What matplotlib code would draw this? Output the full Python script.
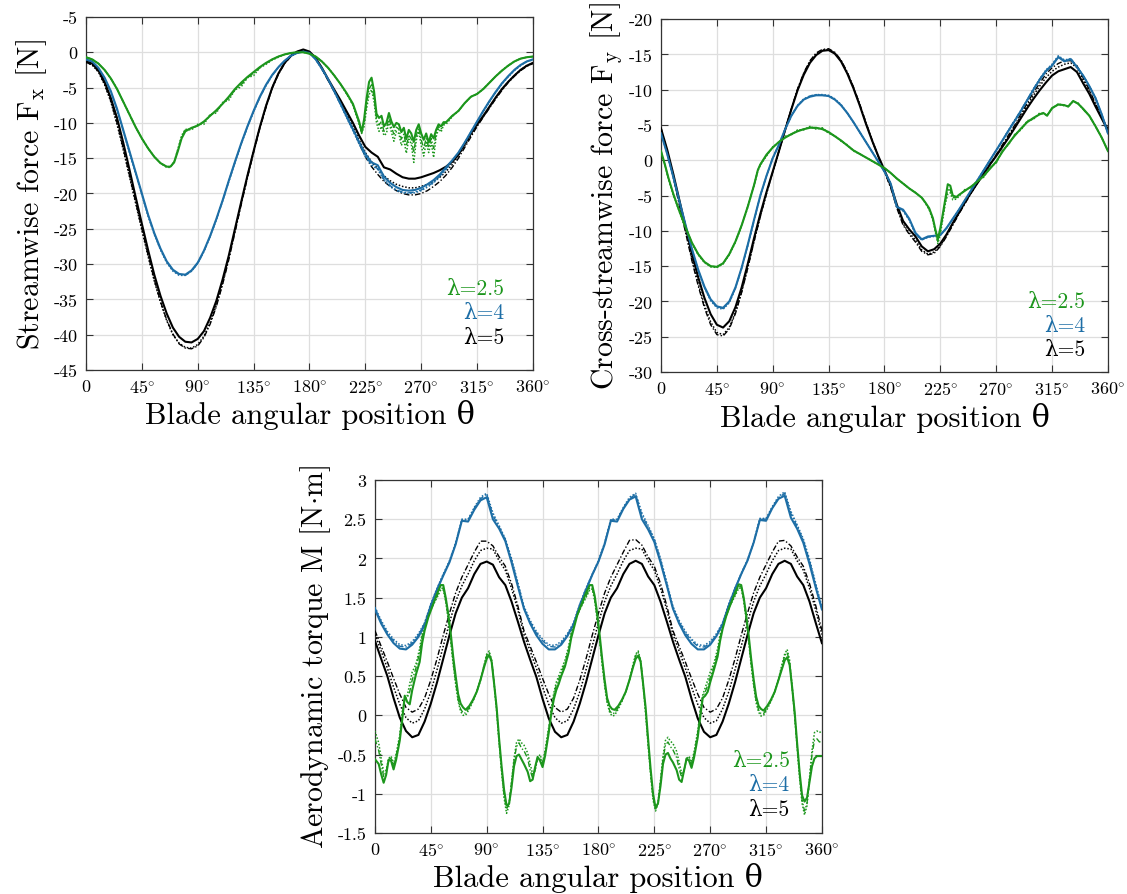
import numpy as np
import matplotlib.pyplot as plt

plt.rcParams['font.family'] = ['cmr10', 'DejaVu Serif']
plt.rcParams['mathtext.fontset'] = 'cm'
plt.rcParams['axes.formatter.use_mathtext'] = True

# ---------------- shared axis data ----------------
theta = np.arange(0, 361, 5)          # 5 deg sample grid
x_ticks = [0, 45, 90, 135, 180, 225, 270, 315, 360]
x_ticklabels = ['0'] + [r'$\mathrm{%d}^{\circ}$' % t for t in x_ticks[1:]]
lambdas = ['λ=2.5', 'λ=4', 'λ=5']

GREEN = '#1c961c'
BLUE = '#1d6ea6'
BLACK = '#000000'

# ---------------- streamwise force Fx ----------------
fx_yticks = [5, 0, -5, -10, -15, -20, -25, -30, -35, -40, -45]
fx_yticklabels = ['-5', '0', '-5', '-10', '-15', '-20', '-25', '-30', '-35', '-40', '-45']

fx_black = [-1.3, -1.6, -2.5, -4.2, -6.5, -9.3, -12.8, -16.6, -20.5, -24.3,
            -28.0, -31.5, -34.5, -37.0, -39.0, -40.3, -41.0, -41.1, -40.6, -39.5,
            -37.6, -35.2, -32.2, -28.8, -25.0, -21.2, -17.5, -14.0, -10.6, -7.6,
            -5.0, -3.0, -1.5, -0.5, 0.1, 0.4, 0.1, -0.8, -2.2, -3.8,
            -5.3, -6.8, -8.4, -10.0, -11.8, -13.4, -14.2, -14.8, -16.3, -16.6,
            -17.2, -17.7, -17.9, -17.9, -17.7, -17.4, -17.1, -16.7, -16.2, -15.5,
            -14.5, -13.0, -11.5, -10.2, -9.0, -7.7, -6.4, -5.2, -4.2, -3.3,
            -2.5, -1.9, -1.5]
fx_black_dot = [-1.4, -1.8, -2.8, -4.6, -7.0, -10.2, -13.8, -17.6, -21.4, -25.2,
                -28.9, -32.4, -35.4, -38.0, -40.0, -41.2, -41.8, -41.9, -41.4, -40.2,
                -38.3, -35.8, -32.7, -29.2, -25.3, -21.4, -17.6, -14.0, -10.6, -7.6,
                -5.0, -3.0, -1.5, -0.5, 0.1, 0.3, 0.0, -0.9, -2.3, -3.9,
                -5.5, -7.0, -8.7, -10.5, -12.4, -14.2, -15.5, -16.5, -17.5, -18.2,
                -18.7, -19.0, -19.2, -19.2, -19.0, -18.7, -18.3, -17.7, -16.9, -15.9,
                -14.6, -13.2, -11.8, -10.4, -9.1, -7.8, -6.5, -5.3, -4.2, -3.3,
                -2.5, -1.9, -1.5]
fx_black_dash = [-1.4, -1.8, -2.7, -4.5, -6.9, -10.0, -13.6, -17.4, -21.2, -25.0,
                 -28.7, -32.2, -35.3, -37.9, -39.9, -41.3, -41.9, -42.0, -41.6, -40.4,
                 -38.5, -36.0, -32.9, -29.4, -25.5, -21.6, -17.8, -14.2, -10.8, -7.8,
                 -5.1, -3.1, -1.6, -0.6, 0.0, 0.3, 0.0, -0.9, -2.3, -4.0,
                 -5.6, -7.2, -9.0, -10.9, -12.9, -14.8, -16.2, -17.3, -18.3, -19.0,
                 -19.6, -20.0, -20.2, -20.2, -20.0, -19.6, -19.0, -18.3, -17.4, -16.3,
                 -15.0, -13.5, -12.0, -10.5, -9.2, -7.9, -6.6, -5.4, -4.3, -3.4,
                 -2.6, -2.0, -1.6]
fx_blue = [-1.0, -1.3, -2.2, -3.6, -5.5, -8.0, -11.0, -14.0, -17.0, -20.0,
           -23.0, -25.6, -27.8, -29.6, -30.8, -31.4, -31.5, -30.9, -29.8, -28.1,
           -26.0, -23.6, -21.0, -18.2, -15.5, -12.9, -10.5, -8.3, -6.3, -4.6,
           -3.2, -2.1, -1.2, -0.5, -0.1, 0.1, -0.1, -1.0, -2.3, -3.8,
           -5.5, -7.3, -9.1, -10.9, -12.7, -14.4, -15.6, -16.0, -17.6, -18.5,
           -19.1, -19.5, -19.6, -19.5, -19.2, -18.7, -18.1, -17.3, -16.3, -15.3,
           -14.2, -12.8, -11.3, -9.8, -8.3, -6.9, -5.6, -4.4, -3.4, -2.5,
           -1.8, -1.3, -1.0]
fx_blue_dot = [-1.0, -1.4, -2.3, -3.7, -5.7, -8.2, -11.2, -14.2, -17.2, -20.2,
               -23.2, -25.8, -28.0, -29.8, -31.0, -31.6, -31.6, -31.0, -29.9, -28.2,
               -26.1, -23.7, -21.1, -18.3, -15.6, -13.0, -10.6, -8.4, -6.4, -4.7,
               -3.3, -2.1, -1.2, -0.5, -0.1, 0.1, -0.1, -1.0, -2.4, -3.9,
               -5.6, -7.4, -9.3, -11.1, -13.0, -14.8, -16.0, -16.6, -18.1, -19.0,
               -19.6, -19.9, -20.0, -19.9, -19.6, -19.1, -18.5, -17.6, -16.6, -15.5,
               -14.3, -12.9, -11.4, -9.9, -8.4, -7.0, -5.7, -4.5, -3.5, -2.6,
               -1.9, -1.3, -1.0]
fx_blue_dash = [-1.1, -1.4, -2.3, -3.7, -5.6, -8.1, -11.1, -14.1, -17.1, -20.1,
                -23.1, -25.7, -27.9, -29.7, -30.9, -31.5, -31.6, -31.0, -29.9, -28.2,
                -26.1, -23.7, -21.1, -18.3, -15.6, -13.0, -10.6, -8.4, -6.4, -4.7,
                -3.3, -2.1, -1.2, -0.5, -0.1, 0.1, -0.1, -1.0, -2.4, -3.9,
                -5.6, -7.4, -9.2, -11.0, -12.9, -14.7, -15.9, -16.5, -18.0, -18.9,
                -19.5, -19.8, -19.9, -19.8, -19.5, -19.0, -18.4, -17.5, -16.5, -15.4,
                -14.2, -12.8, -11.3, -9.8, -8.3, -6.9, -5.6, -4.4, -3.4, -2.5,
                -1.8, -1.3, -1.1]

# green curve sampled finer where it oscillates
fx_theta_green = np.concatenate([np.arange(0, 66, 5), [68, 71, 74, 77],
                                 np.arange(80, 221, 5), np.arange(222, 291, 2),
                                 np.arange(295, 361, 5)])
fx_green = [-0.7, -1.0, -1.6, -2.5, -3.7, -5.2, -7.0, -8.8, -10.6, -12.2, -13.6, -14.8, -15.7, -16.2,
            -16.2, -15.6, -14.0, -12.2,
            -11.2, -10.7, -10.4, -9.8, -9.0, -8.2, -7.3, -6.3, -5.2, -4.3,
            -3.5, -2.8, -2.1, -1.5, -1.0, -0.6, -0.3, -0.1, 0.0, 0.0,
            -0.2, -0.6, -1.3, -2.2, -3.3, -4.5, -5.8, -7.3, -9.8,
            -11.3, -9.5, -6.5, -4.2, -3.6, -5.5, -8.7, -9.3, -9.0, -10.5,
            -10.0, -8.6, -9.8, -10.6, -10.0, -10.2, -11.3, -10.7, -12.3, -11.0,
            -11.5, -12.7, -11.0, -10.2, -11.5, -12.4, -11.5, -12.8, -11.6, -12.2,
            -11.0, -10.2, -10.5, -9.9, -9.9,
            -9.0, -8.3, -7.2, -6.3, -5.9, -5.2, -4.3, -3.4, -2.6, -1.9, -1.3, -0.9, -0.7, -0.6]
fx_green_dot = [-0.7, -1.0, -1.6, -2.5, -3.7, -5.2, -7.0, -8.8, -10.6, -12.2, -13.6, -14.8, -15.7, -16.3,
                -16.3, -15.5, -13.7, -11.8,
                -10.9, -11.0, -10.2, -10.2, -8.8, -8.6, -7.1, -6.8, -5.3, -4.9,
                -3.6, -3.3, -2.2, -1.7, -1.1, -0.7, -0.3, -0.1, 0.0, 0.0,
                -0.2, -0.6, -1.3, -2.2, -3.3, -4.5, -5.9, -7.5, -10.2,
                -11.5, -10.5, -8.0, -6.0, -5.3, -7.0, -10.0, -11.2, -10.5, -11.8,
                -11.5, -9.8, -11.3, -12.6, -11.2, -11.5, -13.2, -12.4, -14.3, -12.3,
                -13.0, -15.6, -12.5, -11.2, -13.2, -14.7, -12.8, -14.2, -12.8, -14.9,
                -12.0, -10.8, -11.3, -10.3, -10.2,
                -9.1, -8.3, -7.2, -6.3, -5.9, -5.2, -4.3, -3.4, -2.6, -1.9, -1.3, -0.9, -0.7, -0.6]
fx_green_dash = [-0.7, -1.0, -1.6, -2.5, -3.7, -5.2, -7.0, -8.8, -10.6, -12.2, -13.6, -14.8, -15.7, -16.2,
                 -16.2, -15.5, -13.8, -12.0,
                 -11.0, -10.8, -10.3, -9.9, -8.9, -8.4, -7.2, -6.5, -5.3, -4.6,
                 -3.6, -3.0, -2.2, -1.6, -1.0, -0.6, -0.3, -0.1, 0.0, 0.0,
                 -0.2, -0.6, -1.3, -2.2, -3.3, -4.5, -5.9, -7.4, -10.0,
                 -11.4, -10.0, -7.3, -5.2, -4.6, -6.3, -9.4, -10.3, -9.8, -11.2,
                 -10.8, -9.2, -10.6, -11.6, -10.6, -10.9, -12.3, -11.6, -13.3, -11.7,
                 -12.3, -14.2, -11.8, -10.7, -12.4, -13.6, -12.2, -13.5, -12.2, -13.6,
                 -11.5, -10.5, -10.9, -10.1, -10.0,
                 -9.0, -8.3, -7.2, -6.3, -5.9, -5.2, -4.3, -3.4, -2.6, -1.9, -1.3, -0.9, -0.7, -0.6]

# ---------------- cross-streamwise force Fy ----------------
fy_yticks = [20, 15, 10, 5, 0, -5, -10, -15, -20, -25, -30]
fy_yticklabels = ['-20', '-15', '-10', '-5', '0', '-5', '-10', '-15', '-20', '-25', '-30']

fy_black = [4.5, 1.5, -2.0, -5.8, -9.6, -13.3, -16.6, -19.5, -21.8, -23.3,
            -23.7, -22.8, -20.8, -18.0, -14.6, -11.0, -7.6, -4.5, -1.6, 1.3,
            4.3, 7.2, 9.9, 12.1, 13.8, 14.9, 15.5, 15.6, 15.1, 14.0,
            12.3, 10.2, 7.8, 5.2, 2.8, 0.6, -1.4, -3.5, -6.3, -8.6,
            -9.8, -10.8, -12.2, -12.9, -12.6, -11.8, -10.5, -8.9, -7.4, -5.9,
            -4.5, -3.2, -1.9, -0.6, 0.6, 1.9, 3.2, 4.6, 6.0, 7.4,
            8.7, 9.9, 11.0, 12.0, 12.6, 12.9, 13.2, 12.5, 10.9, 9.4,
            7.6, 5.9, 4.2]
fy_black_dot = [4.5, 1.3, -2.4, -6.3, -10.2, -14.0, -17.5, -20.5, -22.9, -24.4,
                -24.7, -23.7, -21.5, -18.6, -15.1, -11.4, -7.9, -4.7, -1.7, 1.3,
                4.3, 7.3, 10.0, 12.3, 14.0, 15.1, 15.6, 15.7, 15.2, 14.1,
                12.4, 10.3, 7.9, 5.3, 2.8, 0.5, -1.6, -3.8, -6.6, -9.0,
                -10.3, -11.3, -12.7, -13.3, -13.0, -12.1, -10.7, -9.1, -7.5, -6.0,
                -4.6, -3.2, -1.9, -0.6, 0.7, 2.0, 3.4, 4.8, 6.3, 7.8,
                9.2, 10.5, 11.7, 12.6, 13.2, 13.6, 13.8, 13.1, 11.4, 9.8,
                7.9, 6.1, 4.3]
fy_black_dash = [4.6, 1.2, -2.5, -6.5, -10.4, -14.3, -17.8, -20.9, -23.3, -24.7,
                 -24.9, -23.9, -21.7, -18.7, -15.2, -11.5, -8.0, -4.7, -1.7, 1.3,
                 4.3, 7.3, 10.1, 12.4, 14.1, 15.2, 15.7, 15.8, 15.3, 14.2,
                 12.5, 10.4, 8.0, 5.4, 2.9, 0.5, -1.6, -3.9, -6.8, -9.2,
                 -10.5, -11.6, -12.9, -13.4, -13.2, -12.2, -10.8, -9.2, -7.6, -6.1,
                 -4.6, -3.2, -1.8, -0.5, 0.8, 2.2, 3.6, 5.0, 6.6, 8.1,
                 9.6, 10.9, 12.2, 13.1, 13.7, 14.1, 14.1, 13.4, 11.7, 10.0,
                 8.0, 6.2, 4.4]
fy_blue = [3.8, 0.9, -2.4, -5.9, -9.3, -12.6, -15.5, -17.9, -19.7, -20.7,
           -20.9, -20.0, -18.0, -15.2, -11.9, -8.4, -5.0, -2.2, 0.3, 2.2,
           4.4, 6.3, 7.7, 8.6, 9.0, 9.2, 9.2, 9.1, 8.6, 7.8,
           6.7, 5.4, 4.0, 2.6, 1.2, -0.2, -1.6, -3.3, -6.6, -7.0,
           -8.3, -10.3, -11.2, -10.8, -10.7, -10.6, -9.6, -8.3, -7.0, -5.6,
           -4.2, -2.8, -1.4, 0.0, 1.4, 2.8, 4.2, 5.6, 7.0, 8.5,
           10.0, 11.4, 12.6, 13.4, 14.6, 14.0, 14.3, 13.2, 12.0, 10.5,
           8.8, 6.5, 3.8]
fy_blue_dot = [3.9, 0.9, -2.5, -6.0, -9.5, -12.8, -15.7, -18.1, -19.9, -20.9,
               -21.1, -20.2, -18.1, -15.3, -12.0, -8.5, -5.0, -2.2, 0.3, 2.2,
               4.4, 6.3, 7.8, 8.7, 9.1, 9.3, 9.3, 9.2, 8.7, 7.9,
               6.7, 5.4, 4.0, 2.6, 1.2, -0.2, -1.6, -3.3, -6.7, -7.2,
               -8.5, -10.5, -11.3, -10.9, -10.8, -10.6, -9.6, -8.3, -7.0, -5.6,
               -4.2, -2.8, -1.4, 0.0, 1.4, 2.8, 4.3, 5.7, 7.1, 8.6,
               10.1, 11.5, 12.8, 13.6, 14.8, 14.2, 14.4, 13.3, 12.0, 10.5,
               8.8, 6.5, 3.8]
fy_blue_dash = [3.9, 0.9, -2.5, -6.0, -9.4, -12.7, -15.6, -18.0, -19.8, -20.8,
                -21.0, -20.1, -18.1, -15.3, -12.0, -8.5, -5.0, -2.2, 0.3, 2.2,
                4.4, 6.3, 7.7, 8.6, 9.1, 9.3, 9.2, 9.1, 8.6, 7.8,
                6.7, 5.4, 4.0, 2.6, 1.2, -0.2, -1.6, -3.3, -6.7, -7.1,
                -8.4, -10.4, -11.3, -10.9, -10.7, -10.6, -9.6, -8.3, -7.0, -5.6,
                -4.2, -2.8, -1.4, 0.0, 1.4, 2.8, 4.3, 5.7, 7.1, 8.6,
                10.1, 11.5, 12.7, 13.5, 14.7, 14.1, 14.4, 13.3, 12.0, 10.5,
                8.8, 6.5, 3.8]

fy_theta_green = [0, 3, 6, 10, 15, 20, 25, 30, 35, 40, 45, 50, 55, 60, 65, 70, 75, 78,
                  80, 85, 90, 95, 100, 105, 110, 115, 120, 125, 130, 135, 140, 145,
                  150, 155, 160, 165, 170, 175, 180, 185, 190, 195, 200, 205, 210,
                  213, 216, 219, 221, 223, 225, 227, 229, 231, 233, 235, 238,
                  240, 245, 250, 255, 260, 265, 270, 275, 280, 285, 290, 295, 300, 305,
                  308, 311, 315, 320, 325, 328, 332, 336, 340, 345, 350, 355, 360]
fy_green = [1.3, -0.5, -2.5, -4.8, -7.3, -9.6, -11.7, -13.3, -14.4, -15.0, -15.1,
            -14.6, -13.3, -11.5, -9.2, -6.5, -3.5, -1.4,
            -0.6, 0.8, 1.8, 2.6, 3.2, 3.7, 4.1, 4.4, 4.6, 4.6, 4.4, 4.0, 3.4, 2.8,
            2.1, 1.4, 0.9, 0.4, -0.1, -0.6, -1.1, -1.8, -2.6, -3.3, -4.0, -4.6, -5.3,
            -6.0, -6.8, -8.2, -9.8, -11.2, -9.6, -7.6, -5.5, -3.4, -3.6, -5.0, -5.2,
            -4.9, -4.3, -3.7, -3.0, -2.2, -1.2, -0.2, 1.2, 2.4, 3.5, 4.5, 5.4, 6.0, 6.5,
            6.7, 6.3, 7.4, 7.9, 7.8, 7.6, 8.4, 8.0, 7.3, 6.3, 4.8, 3.2, 1.3]
fy_green_dot = [1.3, -0.6, -2.6, -4.9, -7.4, -9.7, -11.8, -13.4, -14.5, -15.1, -15.2,
                -14.7, -13.4, -11.6, -9.3, -6.6, -3.6, -1.5,
                -0.7, 0.6, 1.9, 2.5, 3.4, 3.6, 4.3, 4.3, 4.8, 4.4, 4.6, 3.8, 3.5, 2.7,
                2.2, 1.3, 0.9, 0.4, -0.1, -0.6, -1.1, -1.8, -2.6, -3.3, -4.0, -4.6, -5.3,
                -6.1, -7.0, -8.5, -10.2, -11.8, -10.5, -8.3, -6.2, -4.8, -4.6, -5.6, -5.5,
                -5.1, -4.1, -3.9, -2.8, -2.4, -1.0, -0.4, 1.4, 2.2, 3.7, 4.3, 5.6, 5.8, 6.7,
                6.6, 6.4, 7.3, 8.0, 7.7, 7.7, 8.3, 8.1, 7.2, 6.3, 4.8, 3.2, 1.3]
fy_green_dash = [1.3, -0.6, -2.6, -4.9, -7.3, -9.6, -11.7, -13.3, -14.4, -15.0, -15.1,
                 -14.6, -13.3, -11.5, -9.2, -6.5, -3.5, -1.4,
                 -0.6, 0.7, 1.8, 2.6, 3.3, 3.7, 4.2, 4.4, 4.7, 4.5, 4.5, 3.9, 3.4, 2.8,
                 2.1, 1.4, 0.9, 0.4, -0.1, -0.6, -1.1, -1.8, -2.6, -3.3, -4.0, -4.6, -5.3,
                 -6.0, -6.9, -8.4, -10.0, -11.5, -10.0, -8.0, -5.8, -4.2, -4.2, -5.3, -5.3,
                 -5.0, -4.2, -3.8, -2.9, -2.3, -1.1, -0.3, 1.3, 2.3, 3.6, 4.4, 5.5, 5.9, 6.6,
                 6.6, 6.4, 7.3, 7.9, 7.8, 7.6, 8.4, 8.0, 7.2, 6.3, 4.8, 3.2, 1.3]

# ---------------- aerodynamic torque M ----------------
m_yticks = [3, 2.5, 2, 1.5, 1, 0.5, 0, -0.5, -1, -1.5]
m_yticklabels = ['3', '2.5', '2', '1.5', '1', '0.5', '0', '-0.5', '-1', '-1.5']

m_blue = [1.35, 1.17, 1.03, 0.92, 0.85, 0.84, 0.90, 1.00, 1.15, 1.40, 1.60, 1.78,
          1.95, 2.18, 2.48, 2.47, 2.62, 2.74, 2.78, 2.50, 2.38, 2.22, 1.95, 1.65,
          1.36, 1.17, 1.02, 0.91, 0.84, 0.84, 0.90, 1.01, 1.16, 1.40, 1.60, 1.79,
          1.96, 2.18, 2.48, 2.47, 2.63, 2.75, 2.79, 2.50, 2.37, 2.21, 1.95, 1.66,
          1.36, 1.17, 1.02, 0.91, 0.84, 0.84, 0.90, 1.01, 1.16, 1.40, 1.61, 1.80,
          1.97, 2.20, 2.49, 2.48, 2.64, 2.76, 2.80, 2.52, 2.38, 2.20, 1.93, 1.63,
          1.35]
m_blue_dot = [1.38, 1.21, 1.07, 0.97, 0.90, 0.89, 0.94, 1.04, 1.18, 1.42, 1.62, 1.80,
              1.97, 2.20, 2.50, 2.50, 2.65, 2.78, 2.83, 2.58, 2.42, 2.25, 2.00, 1.70,
              1.39, 1.21, 1.07, 0.97, 0.90, 0.89, 0.94, 1.04, 1.18, 1.42, 1.62, 1.80,
              1.97, 2.20, 2.50, 2.50, 2.65, 2.78, 2.83, 2.58, 2.42, 2.25, 2.00, 1.70,
              1.39, 1.21, 1.07, 0.97, 0.90, 0.89, 0.94, 1.04, 1.18, 1.42, 1.62, 1.81,
              1.98, 2.21, 2.51, 2.51, 2.66, 2.79, 2.85, 2.60, 2.43, 2.25, 1.99, 1.68,
              1.38]
m_blue_dash = [1.37, 1.19, 1.05, 0.95, 0.88, 0.87, 0.92, 1.02, 1.17, 1.41, 1.61, 1.79,
               1.96, 2.19, 2.49, 2.49, 2.64, 2.76, 2.82, 2.55, 2.40, 2.24, 1.98, 1.68,
               1.37, 1.19, 1.05, 0.95, 0.88, 0.87, 0.92, 1.02, 1.17, 1.41, 1.61, 1.79,
               1.96, 2.19, 2.49, 2.49, 2.64, 2.76, 2.82, 2.55, 2.40, 2.24, 1.98, 1.68,
               1.37, 1.19, 1.05, 0.95, 0.88, 0.87, 0.92, 1.02, 1.17, 1.41, 1.62, 1.80,
               1.97, 2.20, 2.50, 2.50, 2.65, 2.77, 2.83, 2.57, 2.41, 2.23, 1.97, 1.66,
               1.36]
m_black = [0.95, 0.72, 0.50, 0.22, -0.03, -0.20, -0.28, -0.25, -0.08, 0.15, 0.42, 0.72,
           1.02, 1.30, 1.50, 1.62, 1.80, 1.93, 1.96, 1.92, 1.76, 1.66, 1.45, 1.20,
           0.94, 0.71, 0.49, 0.21, -0.04, -0.21, -0.28, -0.25, -0.08, 0.15, 0.42, 0.72,
           1.02, 1.30, 1.50, 1.62, 1.80, 1.93, 1.97, 1.93, 1.77, 1.66, 1.45, 1.20,
           0.94, 0.71, 0.49, 0.21, -0.04, -0.21, -0.28, -0.25, -0.08, 0.15, 0.42, 0.72,
           1.02, 1.30, 1.50, 1.62, 1.80, 1.93, 1.97, 1.93, 1.77, 1.66, 1.45, 1.18,
           0.92]
m_black_dot = [1.03, 0.82, 0.60, 0.36, 0.14, -0.03, -0.10, -0.07, 0.08, 0.30, 0.58, 0.88,
               1.18, 1.45, 1.65, 1.80, 1.97, 2.10, 2.13, 2.12, 1.97, 1.85, 1.62, 1.35,
               1.03, 0.82, 0.60, 0.36, 0.14, -0.03, -0.10, -0.07, 0.08, 0.30, 0.58, 0.88,
               1.18, 1.45, 1.65, 1.80, 1.97, 2.10, 2.13, 2.12, 1.97, 1.85, 1.62, 1.35,
               1.03, 0.82, 0.60, 0.36, 0.14, -0.03, -0.10, -0.07, 0.08, 0.30, 0.58, 0.88,
               1.18, 1.45, 1.65, 1.80, 1.97, 2.10, 2.13, 2.12, 1.97, 1.85, 1.62, 1.34,
               1.03]
m_black_dash = [1.08, 0.88, 0.68, 0.47, 0.27, 0.10, 0.04, 0.08, 0.22, 0.45, 0.72, 1.02,
                1.30, 1.56, 1.76, 1.92, 2.08, 2.22, 2.22, 2.16, 2.02, 1.90, 1.68, 1.40,
                1.08, 0.88, 0.68, 0.47, 0.27, 0.10, 0.04, 0.08, 0.22, 0.45, 0.72, 1.02,
                1.30, 1.56, 1.76, 1.92, 2.08, 2.23, 2.24, 2.17, 2.02, 1.90, 1.68, 1.40,
                1.08, 0.88, 0.68, 0.47, 0.27, 0.10, 0.04, 0.08, 0.22, 0.45, 0.72, 1.02,
                1.30, 1.56, 1.76, 1.92, 2.08, 2.22, 2.23, 2.16, 2.02, 1.90, 1.68, 1.40,
                1.08]

# green torque sampled at the same offsets in each of the three blade passages
m_offsets = [0, 3, 5, 7, 9, 11, 13, 15, 17, 20, 22, 24, 26, 28, 30, 33, 36, 38, 40, 43, 46,
             50, 53, 55, 57, 59, 61, 63, 65, 67, 69, 71, 73, 76, 79, 82, 85, 88,
             90, 92, 94, 96, 98, 100, 102, 104, 106, 108, 110, 112, 114, 116, 118]
m_theta_green = np.concatenate([np.array(m_offsets) + k * 120 for k in range(3)] + [[360]])
m_green = [-0.56, -0.62, -0.75, -0.86, -0.76, -0.57, -0.58, -0.69, -0.57,
           -0.32, -0.05, 0.25, 0.17, 0.14, 0.32, 0.52, 0.68, 0.92, 1.08, 1.25, 1.38,
           1.55, 1.66, 1.66, 1.50, 1.30, 1.05, 0.75, 0.50, 0.27, 0.15, 0.10, 0.07,
           0.12, 0.20, 0.30, 0.45, 0.62,
           0.72, 0.77, 0.68, 0.40, 0.10, -0.30, -0.65, -0.95, -1.15, -1.13, -0.92, -0.65, -0.52, -0.50, -0.56,
           -0.62, -0.72, -0.84, -0.82, -0.66, -0.53, -0.58, -0.66, -0.52,
           -0.22, 0.02, 0.20, 0.32, 0.40, 0.50, 0.62, 0.80, 0.98, 1.10, 1.28, 1.40,
           1.56, 1.66, 1.66, 1.52, 1.30, 1.02, 0.72, 0.45, 0.22, 0.12, 0.08, 0.07,
           0.12, 0.20, 0.30, 0.45, 0.62,
           0.72, 0.76, 0.68, 0.40, 0.10, -0.30, -0.68, -1.00, -1.18, -1.12, -0.90, -0.62, -0.50, -0.48, -0.55,
           -0.60, -0.70, -0.82, -0.85, -0.70, -0.55, -0.58, -0.67, -0.54,
           -0.28, -0.02, 0.22, 0.25, 0.30, 0.42, 0.58, 0.75, 0.95, 1.10, 1.27, 1.40,
           1.56, 1.67, 1.66, 1.50, 1.28, 1.02, 0.72, 0.46, 0.24, 0.12, 0.08, 0.06,
           0.12, 0.20, 0.30, 0.45, 0.60,
           0.70, 0.74, 0.64, 0.36, 0.05, -0.35, -0.72, -1.02, -1.10, -1.05, -0.85, -0.65, -0.55, -0.52, -0.52,
           -0.52]
m_green_dot = [-0.20, -0.35, -0.55, -0.72, -0.70, -0.55, -0.52, -0.62, -0.50,
               -0.25, 0.05, 0.20, 0.25, 0.40, 0.55, 0.65, 0.85, 1.05, 1.15, 1.28, 1.38,
               1.50, 1.60, 1.60, 1.45, 1.22, 0.95, 0.65, 0.40, 0.18, 0.05, 0.00, 0.00,
               0.08, 0.18, 0.30, 0.45, 0.65,
               0.78, 0.82, 0.70, 0.40, 0.05, -0.35, -0.72, -1.05, -1.25, -1.15, -0.85, -0.55, -0.35, -0.30, -0.35,
               -0.38, -0.48, -0.62, -0.75, -0.70, -0.55, -0.50, -0.60, -0.45,
               -0.15, 0.08, 0.28, 0.42, 0.50, 0.58, 0.70, 0.88, 1.05, 1.15, 1.28, 1.38,
               1.50, 1.60, 1.61, 1.46, 1.22, 0.95, 0.65, 0.38, 0.16, 0.04, -0.01, 0.00,
               0.08, 0.18, 0.30, 0.45, 0.66,
               0.78, 0.82, 0.70, 0.38, 0.02, -0.38, -0.75, -1.08, -1.22, -1.12, -0.82, -0.52, -0.32, -0.28, -0.33,
               -0.36, -0.46, -0.60, -0.74, -0.70, -0.56, -0.52, -0.60, -0.47,
               -0.20, 0.06, 0.26, 0.35, 0.45, 0.55, 0.66, 0.85, 1.03, 1.14, 1.28, 1.40,
               1.52, 1.62, 1.62, 1.46, 1.22, 0.94, 0.64, 0.38, 0.16, 0.04, -0.01, 0.00,
               0.08, 0.18, 0.30, 0.46, 0.66,
               0.78, 0.84, 0.70, 0.36, 0.00, -0.40, -0.80, -1.12, -1.27, -1.15, -0.80, -0.45, -0.22, -0.20, -0.22,
               -0.20]
m_green_dash = [-0.30, -0.45, -0.62, -0.78, -0.72, -0.56, -0.55, -0.65, -0.52,
                -0.28, 0.00, 0.22, 0.22, 0.30, 0.45, 0.60, 0.80, 1.00, 1.18, 1.30, 1.40,
                1.52, 1.62, 1.62, 1.47, 1.25, 0.98, 0.68, 0.42, 0.20, 0.08, 0.03, 0.03,
                0.10, 0.19, 0.30, 0.45, 0.64,
                0.76, 0.80, 0.70, 0.40, 0.07, -0.33, -0.70, -1.02, -1.20, -1.12, -0.86, -0.58, -0.40, -0.35, -0.42,
                -0.45, -0.55, -0.70, -0.80, -0.70, -0.55, -0.54, -0.63, -0.48,
                -0.18, 0.05, 0.25, 0.38, 0.46, 0.54, 0.66, 0.84, 1.02, 1.13, 1.28, 1.39,
                1.52, 1.62, 1.63, 1.48, 1.25, 0.97, 0.67, 0.40, 0.18, 0.06, 0.02, 0.03,
                0.10, 0.19, 0.30, 0.45, 0.64,
                0.76, 0.80, 0.70, 0.39, 0.05, -0.35, -0.72, -1.05, -1.20, -1.12, -0.85, -0.56, -0.38, -0.34, -0.40,
                -0.44, -0.54, -0.68, -0.79, -0.70, -0.55, -0.54, -0.63, -0.50,
                -0.22, 0.03, 0.24, 0.30, 0.38, 0.48, 0.62, 0.80, 0.99, 1.12, 1.27, 1.40,
                1.54, 1.64, 1.64, 1.48, 1.25, 0.97, 0.67, 0.41, 0.19, 0.07, 0.02, 0.02,
                0.10, 0.19, 0.30, 0.45, 0.63,
                0.76, 0.80, 0.68, 0.36, 0.02, -0.38, -0.76, -1.08, -1.22, -1.12, -0.82, -0.50, -0.32, -0.30, -0.34,
                -0.33]


def draw_case(ax, th, solid, dot, dash, color):
    ax.plot(th, dash, color=color, lw=1.0, ls=(0, (4, 1.5, 1, 1.5)), zorder=3)
    ax.plot(th, dot, color=color, lw=1.1, ls=(0, (1, 1.2)), zorder=3)
    ax.plot(th, solid, color=color, lw=1.5, zorder=4)


def style_axes(ax, yticks, yticklabels, ylim, ylabel, lam_pos):
    ax.set_xlim(0, 360)
    ax.set_ylim(*ylim)
    ax.set_xticks(x_ticks)
    ax.set_xticklabels(x_ticklabels)
    ax.set_yticks(yticks)
    ax.set_yticklabels(yticklabels)
    ax.grid(True, color='#dedede', lw=0.9)
    ax.set_axisbelow(True)
    ax.tick_params(direction='in', top=True, right=True, length=5, width=0.8,
                   labelsize=13, pad=6, color='#333333')
    for sp in ax.spines.values():
        sp.set_color('#333333')
        sp.set_linewidth(0.9)
    ax.set_xlabel('Blade angular position θ', fontsize=22, labelpad=3)
    ax.set_ylabel(ylabel, fontsize=21.5, labelpad=3)
    xr, y0, dy = lam_pos
    for i, (txt, col) in enumerate(zip(lambdas, [GREEN, BLUE, BLACK])):
        ax.text(xr, y0 - i * dy, txt, color=col, fontsize=15.5, ha='right', va='center',
                transform=ax.transAxes)


fig = plt.figure(figsize=(11.27, 8.95), dpi=100)
ax_fx = fig.add_axes([0.0763, 0.5855, 0.3966, 0.3944])
ax_fy = fig.add_axes([0.5865, 0.5832, 0.3966, 0.3944])
ax_m = fig.add_axes([0.3327, 0.0682, 0.3966, 0.3944])

draw_case(ax_fx, theta, fx_black, fx_black_dot, fx_black_dash, BLACK)
draw_case(ax_fx, theta, fx_blue, fx_blue_dot, fx_blue_dash, BLUE)
draw_case(ax_fx, fx_theta_green, fx_green, fx_green_dot, fx_green_dash, GREEN)
style_axes(ax_fx, fx_yticks, fx_yticklabels, (-45, 5),
           r'Streamwise force F$_\mathrm{x}$ [N]', (0.935, 0.232, 0.069))

draw_case(ax_fy, theta, fy_black, fy_black_dot, fy_black_dash, BLACK)
draw_case(ax_fy, theta, fy_blue, fy_blue_dot, fy_blue_dash, BLUE)
draw_case(ax_fy, fy_theta_green, fy_green, fy_green_dot, fy_green_dash, GREEN)
style_axes(ax_fy, fy_yticks, fy_yticklabels, (-30, 20),
           r'Cross-streamwise force F$_\mathrm{y}$ [N]', (0.949, 0.201, 0.068))

draw_case(ax_m, theta, m_black, m_black_dot, m_black_dash, BLACK)
draw_case(ax_m, theta, m_blue, m_blue_dot, m_blue_dash, BLUE)
draw_case(ax_m, m_theta_green, m_green, m_green_dot, m_green_dash, GREEN)
style_axes(ax_m, m_yticks, m_yticklabels, (-1.5, 3),
           r'Aerodynamic torque M [N$\cdot$m]', (0.928, 0.207, 0.07))

fig.savefig('out.png', dpi=100, facecolor='white')
